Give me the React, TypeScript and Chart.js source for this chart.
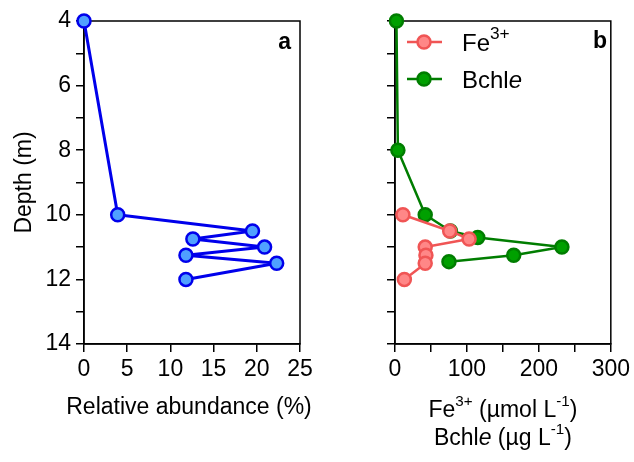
import React, { useEffect, useRef } from "react";
import { Chart, registerables } from "chart.js";

Chart.register(...registerables);

// ---- data ----
const depthA = [4, 10, 10.5, 10.75, 11, 11.25, 11.5, 12];
const abundance = [0, 3.9, 19.5, 12.6, 20.9, 11.8, 22.3, 11.8];

const feDepth = [10, 10.5, 10.75, 11, 11.25, 11.5, 12];
const fe = [11, 76, 103, 42, 43, 42, 13];

const bchleDepth = [4, 8, 10, 10.5, 10.7, 11, 11.25, 11.45];
const bchle = [2, 4, 42, 77, 115, 232, 165, 75];

const depthTicks = [4, 6, 8, 10, 12, 14];
const xTicksA = [0, 5, 10, 15, 20, 25];
const xTicksB = [0, 100, 200, 300];

const FONT = "'Liberation Sans', Arial, Helvetica, sans-serif";
const TICK_SIZE = 23;
const TITLE_SIZE = 23;

const BLUE = "rgb(0,0,235)";
const BLUE_FILL = "rgb(80,160,255)";
const RED = "rgb(240,85,85)";
const RED_FILL = "rgb(255,135,135)";
const GREEN = "rgb(0,125,0)";
const GREEN_FILL = "rgb(0,160,0)";

type Seg = { t: string; italic?: boolean; sup?: boolean };

function drawRich(ctx: CanvasRenderingContext2D, segs: Seg[], x: number, y: number, size: number, align: "left" | "center", supRatio = 0.66) {
  const supSize = size * supRatio;
  const fontFor = (s: Seg) => `${s.italic ? "italic " : ""}${s.sup ? supSize : size}px ${FONT}`;
  let total = 0;
  const widths = segs.map((s) => {
    ctx.font = fontFor(s);
    const w = ctx.measureText(s.t).width;
    total += w;
    return w;
  });
  let cx = align === "center" ? x - total / 2 : x;
  ctx.textAlign = "left";
  ctx.textBaseline = "middle";
  ctx.fillStyle = "#000";
  segs.forEach((s, i) => {
    ctx.font = fontFor(s);
    ctx.fillText(s.t, cx, s.sup ? y - size * 0.4 : y);
    cx += widths[i];
  });
}

const framePlugin = {
  id: "frame",
  beforeDatasetsDraw(chart: any) {
    const { ctx, chartArea } = chart;
    ctx.save();
    ctx.strokeStyle = "#000";
    ctx.lineWidth = 1.5;
    ctx.strokeRect(chartArea.left, chartArea.top, chartArea.right - chartArea.left, chartArea.bottom - chartArea.top);
    ctx.restore();
  },
};

function panelLabel(text: string, rightX: number, y: number) {
  return {
    id: "panelLabel" + text,
    afterDraw(chart: any) {
      const ctx = chart.ctx;
      ctx.save();
      ctx.font = `bold ${TITLE_SIZE}px ${FONT}`;
      ctx.fillStyle = "#000";
      ctx.textAlign = "right";
      ctx.textBaseline = "middle";
      ctx.fillText(text, rightX, y);
      ctx.restore();
    },
  };
}

const legendPlugin = {
  id: "customLegend",
  afterDraw(chart: any) {
    const ctx = chart.ctx;
    const rows = [
      { y: 42, line: RED, fill: RED_FILL, segs: [{ t: "Fe" }, { t: "3+", sup: true }] as Seg[] },
      { y: 79, line: GREEN, fill: GREEN_FILL, segs: [{ t: "Bchl" }, { t: "e", italic: true }] as Seg[] },
    ];
    ctx.save();
    rows.forEach((r) => {
      ctx.strokeStyle = r.line;
      ctx.lineWidth = 2.5;
      ctx.beginPath();
      ctx.moveTo(67, r.y);
      ctx.lineTo(102, r.y);
      ctx.stroke();
      ctx.beginPath();
      ctx.arc(84, r.y, 6.5, 0, Math.PI * 2);
      ctx.fillStyle = r.fill;
      ctx.fill();
      ctx.stroke();
      drawRich(ctx, r.segs, 122, r.y + 2, 24, "left", 0.72);
    });
    ctx.restore();
  },
};

const aTitlePlugin = {
  id: "aTitle",
  afterDraw(chart: any) {
    const ctx = chart.ctx;
    const cx = (chart.chartArea.left + chart.chartArea.right) / 2 - 3;
    ctx.save();
    drawRich(ctx, [{ t: "Relative abundance (%)" }], cx, 408, TITLE_SIZE, "center");
    ctx.restore();
  },
};

const bTitlePlugin = {
  id: "bTitle",
  afterDraw(chart: any) {
    const ctx = chart.ctx;
    const cx = (chart.chartArea.left + chart.chartArea.right) / 2;
    ctx.save();
    drawRich(ctx, [{ t: "Fe" }, { t: "3+", sup: true }, { t: " (µmol L" }, { t: "-1", sup: true }, { t: ")" }], cx, 411, TITLE_SIZE, "center");
    drawRich(ctx, [{ t: "Bchl" }, { t: "e", italic: true }, { t: " (µg L" }, { t: "-1", sup: true }, { t: ")" }], cx, 439, TITLE_SIZE, "center");
    ctx.restore();
  },
};

function yScale(width: number, showLabels: boolean, title: boolean) {
  return {
    type: "linear",
    reverse: true,
    min: 4,
    max: 14,
    afterFit: (s: any) => {
      s.width = width;
    },
    afterBuildTicks: (s: any) => {
      const t = [];
      for (let v = 4; v <= 14; v++) t.push({ value: v });
      s.ticks = t;
    },
    ticks: {
      autoSkip: false,
      padding: 5,
      color: "#000",
      font: { family: FONT, size: TICK_SIZE },
      callback: (v: number) => (showLabels && depthTicks.includes(v) ? String(v) : ""),
    },
    grid: { drawOnChartArea: false, drawTicks: true, tickLength: 8, color: "#000", lineWidth: 1.5 },
    border: { color: "#000", width: 1.5 },
    title: {
      display: title,
      text: "Depth (m)",
      color: "#000",
      font: { family: FONT, size: TITLE_SIZE, weight: "normal" },
      padding: { top: 11, bottom: 0 },
    },
  };
}

function xScale(max: number, step: number, labels: number[]) {
  return {
    type: "linear",
    min: 0,
    max,
    afterFit: (s: any) => {
      s.height = 118;
    },
    afterBuildTicks: (s: any) => {
      const t = [];
      for (let v = 0; v <= max; v += step) t.push({ value: v });
      s.ticks = t;
    },
    ticks: {
      autoSkip: false,
      maxRotation: 0,
      padding: 4,
      color: "#000",
      font: { family: FONT, size: TICK_SIZE },
      callback: (v: number) => (labels.includes(v) ? String(v) : ""),
    },
    grid: { drawOnChartArea: false, drawTicks: true, tickLength: 8, color: "#000", lineWidth: 1.5 },
    border: { color: "#000", width: 1.5 },
  };
}

function series(label: string, xs: number[], ys: number[], line: string, fill: string, lw: number) {
  return {
    label,
    data: xs.map((x, i) => ({ x, y: ys[i] })),
    showLine: true,
    borderColor: line,
    backgroundColor: fill,
    borderWidth: lw,
    borderJoinStyle: "round",
    pointRadius: 6.5,
    pointBorderWidth: 2.5,
    pointBackgroundColor: fill,
    pointBorderColor: line,
    clip: false,
    tension: 0,
  };
}

export default function App() {
  const refA = useRef<HTMLCanvasElement>(null);
  const refB = useRef<HTMLCanvasElement>(null);

  useEffect(() => {
    const common = {
      responsive: false,
      animation: false,
      devicePixelRatio: 1,
      plugins: { legend: { display: false }, tooltip: { enabled: false } },
    };
    const chartA = new Chart(refA.current!, {
      type: "scatter",
      data: { datasets: [series("Relative abundance", abundance, depthA, BLUE, BLUE_FILL, 3)] },
      options: {
        ...common,
        layout: { padding: { top: 21, left: 0, right: 40, bottom: 0 } },
        scales: {
          x: xScale(25, 5, xTicksA),
          y: yScale(84, true, true),
        },
      } as any,
      plugins: [framePlugin, panelLabel("a", 291, 43), aTitlePlugin],
    });
    const chartB = new Chart(refB.current!, {
      type: "scatter",
      data: {
        datasets: [
          series("Fe3+", fe, feDepth, RED, RED_FILL, 2.5),
          series("Bchle", bchle, bchleDepth, GREEN, GREEN_FILL, 2.5),
        ],
      },
      options: {
        ...common,
        layout: { padding: { top: 21, left: 0, right: 22, bottom: 0 } },
        scales: {
          x: xScale(300, 50, xTicksB),
          y: yScale(55, false, false),
        },
      } as any,
      plugins: [framePlugin, panelLabel("b", 267, 42), legendPlugin, bTitlePlugin],
    });
    return () => {
      chartA.destroy();
      chartB.destroy();
    };
  }, []);

  return (
    <div style={{ position: "fixed", left: 0, top: 0, width: 634, height: 462, background: "#fff" }}>
      <canvas ref={refA} width={340} height={462} style={{ position: "absolute", left: 0, top: 0, width: 340, height: 462 }} />
      <canvas ref={refB} width={294} height={462} style={{ position: "absolute", left: 340, top: 0, width: 294, height: 462 }} />
    </div>
  );
}
